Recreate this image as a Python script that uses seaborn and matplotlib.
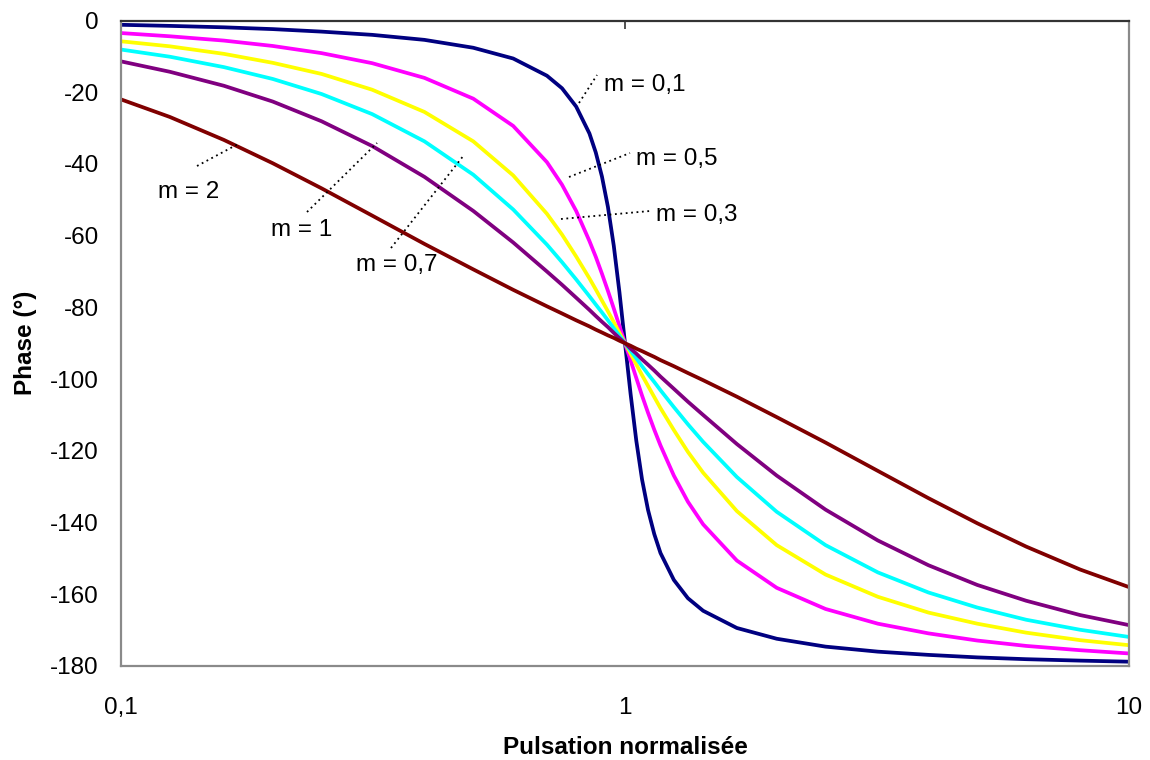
import matplotlib
matplotlib.use("Agg")
import matplotlib.pyplot as plt
import seaborn as sns
import pandas as pd
from matplotlib.lines import Line2D

# ---- data ----
pulsation = [0.1, 0.125, 0.16, 0.2, 0.25, 0.315, 0.4, 0.5, 0.6, 0.7, 0.75, 0.8, 0.85,
             0.875, 0.9, 0.925, 0.95, 0.975, 1.0,
             1.026, 1.053, 1.081, 1.111, 1.143, 1.176, 1.25, 1.333, 1.429, 1.667,
             2.0, 2.5, 3.175, 4.0, 5.0, 6.25, 8.0, 10.0]

phase_m01 = [-1.2, -1.5, -1.9, -2.4, -3.1, -4.0, -5.4, -7.6, -10.6, -15.4, -18.9, -24.0, -31.5,
             -36.8, -43.5, -52.0, -62.8, -75.8, -90.0,
             -104.2, -117.2, -128.0, -136.5, -143.2, -148.5, -156.0, -161.1, -164.6, -169.4,
             -172.4, -174.6, -176.0, -176.9, -177.6, -178.1, -178.5, -178.8]
phase_m03 = [-3.5, -4.4, -5.6, -7.1, -9.1, -11.9, -16.0, -21.8, -29.4, -39.5, -45.8, -53.1, -61.5,
             -65.9, -70.6, -75.4, -80.3, -85.2, -90.0,
             -94.8, -99.7, -104.6, -109.4, -114.1, -118.5, -126.9, -134.2, -140.5, -150.6,
             -158.2, -164.1, -168.2, -170.9, -172.9, -174.4, -175.6, -176.5]
phase_m05 = [-5.8, -7.2, -9.3, -11.8, -14.9, -19.3, -25.5, -33.7, -43.2, -53.9, -59.7, -65.8, -71.9,
             -75.0, -78.1, -81.1, -84.1, -87.1, -90.0,
             -92.9, -95.9, -98.9, -101.9, -105.0, -108.1, -114.2, -120.3, -126.1, -136.8,
             -146.3, -154.5, -160.7, -165.1, -168.2, -170.7, -172.8, -174.2]
phase_m07 = [-8.1, -10.1, -13.0, -16.3, -20.5, -26.1, -33.7, -43.0, -52.7, -62.5, -67.4, -72.2, -76.9,
             -79.2, -81.4, -83.6, -85.8, -87.9, -90.0,
             -92.1, -94.2, -96.4, -98.6, -100.8, -103.1, -107.8, -112.6, -117.5, -127.3,
             -137.0, -146.3, -153.9, -159.5, -163.7, -167.1, -169.9, -171.9]
phase_m1 = [-11.4, -14.3, -18.2, -22.6, -28.1, -35.0, -43.6, -53.1, -61.9, -70.0, -73.7, -77.3, -80.7,
            -82.4, -84.0, -85.5, -87.1, -88.6, -90.0,
            -91.5, -92.9, -94.5, -96.0, -97.6, -99.3, -102.7, -106.3, -110.0, -118.1,
            -126.9, -136.4, -145.0, -151.9, -157.4, -161.8, -165.8, -168.6]
phase_m2 = [-22.0, -26.9, -33.3, -39.8, -46.8, -54.4, -62.3, -69.4, -75.1, -79.7, -81.7, -83.6, -85.3,
            -86.2, -87.0, -87.8, -88.5, -89.3, -90.0,
            -90.7, -91.5, -92.2, -93.0, -93.8, -94.7, -96.4, -98.3, -100.3, -104.9,
            -110.6, -117.7, -125.6, -133.2, -140.2, -146.7, -153.1, -158.0]

series_names = ["m = 0,1", "m = 0,3", "m = 0,5", "m = 0,7", "m = 1", "m = 2"]
series_values = [phase_m01, phase_m03, phase_m05, phase_m07, phase_m1, phase_m2]
series_colors = ["#000080", "#FF00FF", "#FFFF00", "#00FFFF", "#800080", "#800000"]

y_ticks = [0, -20, -40, -60, -80, -100, -120, -140, -160, -180]
y_tick_labels = ["0", "-20", "-40", "-60", "-80", "-100", "-120", "-140", "-160", "-180"]
x_ticks = [0.1, 1, 10]
x_tick_labels = ["0,1", "1", "10"]

# ---- build long table ----
rows = []
for name, vals in zip(series_names, series_values):
    for w, p in zip(pulsation, vals):
        rows.append({"w": w, "phase": p, "m": name})
df = pd.DataFrame(rows)

sns.set_style("white")
plt.rcParams["font.family"] = ["Liberation Sans", "DejaVu Sans"]
plt.rcParams["text.color"] = "black"
plt.rcParams["axes.labelcolor"] = "black"
plt.rcParams["xtick.color"] = "black"
plt.rcParams["ytick.color"] = "black"

W, H = 1150, 760
FS = 17.5
fig = plt.figure(figsize=(W / 100, H / 100), dpi=100)
L, R, T, B = 121, 1129, 20.5, 666
ax = fig.add_axes([L / W, 1 - B / H, (R - L) / W, (B - T) / H])

sns.lineplot(data=df, x="w", y="phase", hue="m", hue_order=series_names,
             palette=dict(zip(series_names, series_colors)), linewidth=2.7,
             legend=False, errorbar=None, ax=ax)

ax.set_xscale("log")
ax.set_xlim(0.1, 10)
ax.set_ylim(-180, 0)
ax.set_xticks(x_ticks)
ax.set_xticklabels(x_tick_labels)
ax.xaxis.set_minor_locator(matplotlib.ticker.NullLocator())
ax.set_yticks(y_ticks)
ax.set_yticklabels(y_tick_labels)

ax.tick_params(axis="x", which="major", bottom=False, top=True, labelbottom=True,
               labeltop=False, direction="in", length=6, width=1.2, color="#333333",
               pad=22, labelsize=FS, labelcolor="black")
ax.tick_params(axis="y", left=False, length=0, pad=16, labelsize=FS, labelcolor="black")

for s in ["left", "right", "bottom"]:
    ax.spines[s].set_color("#8a8a8a")
    ax.spines[s].set_linewidth(1.6)
ax.spines["top"].set_color("#333333")
ax.spines["top"].set_linewidth(1.6)

ax.set_xlabel("Pulsation normalisée", fontsize=FS, fontweight="bold", color="black")
ax.set_ylabel("Phase (°)", fontsize=FS, fontweight="bold", color="black")
ax.xaxis.set_label_coords(0.5, (B - 736) / (B - T))
ax.xaxis.label.set_va("top")
ax.yaxis.set_label_coords((37 - L) / (R - L), 0.5)


def fp(px, py):
    return px / W, 1 - py / H


# annotation texts (left x, center y) and leader lines in pixels
labels = [
    ("m = 0,1", 604, 85, (579, 103), (597, 75)),
    ("m = 0,5", 636, 159, (569, 177), (630, 153)),
    ("m = 0,3", 656, 215, (561, 219), (650, 211)),
    ("m = 2", 158, 192, (197, 166), (240, 143)),
    ("m = 1", 271, 230, (307, 212), (377, 143)),
    ("m = 0,7", 356, 265, (391, 248), (464, 155)),
]
for txt, tx, ty, p0, p1 in labels:
    x0, y0 = fp(*p0)
    x1, y1 = fp(*p1)
    fig.add_artist(Line2D([x0, x1], [y0, y1], transform=fig.transFigure,
                          color="black", linestyle=(0, (1, 2)), linewidth=1.3))
    fx, fy = fp(tx, ty)
    fig.text(fx, fy, txt, fontsize=FS, ha="left", va="center", color="black")

fig.savefig("out.png", dpi=100)
